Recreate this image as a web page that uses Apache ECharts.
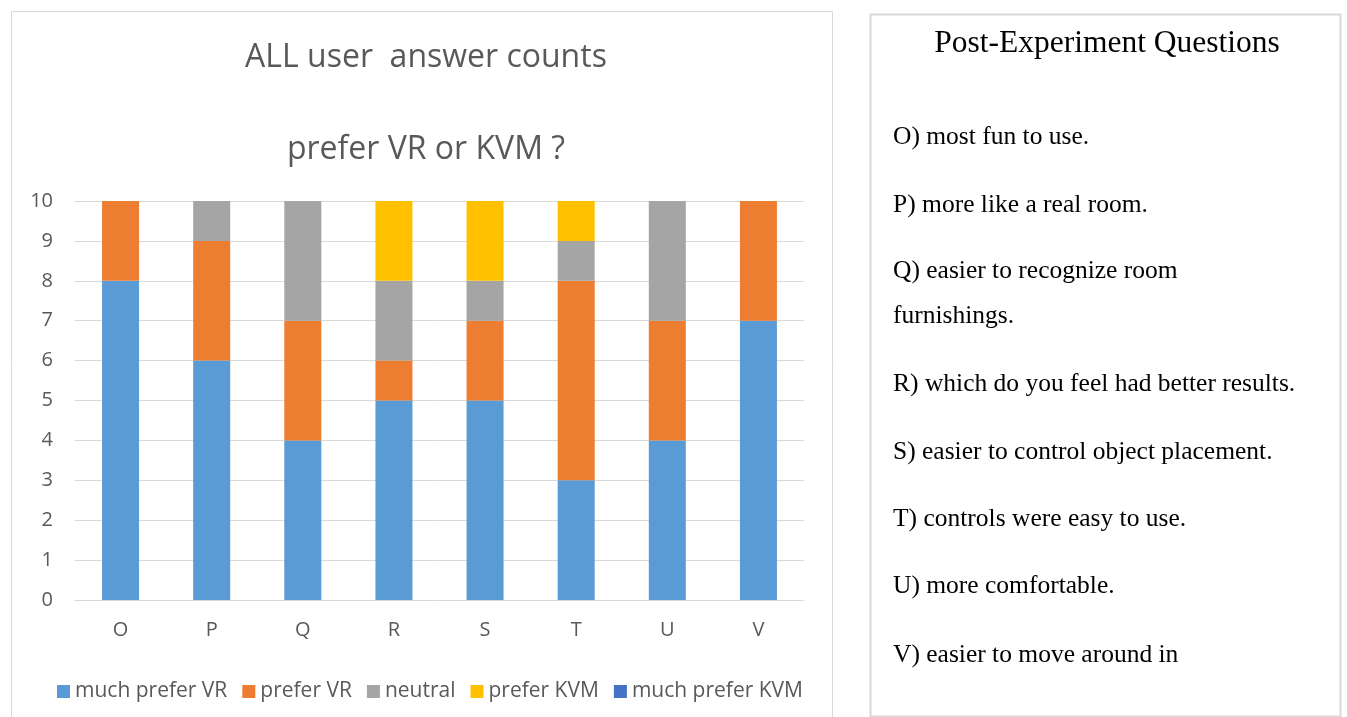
<!DOCTYPE html>
<html>
<head>
<meta charset="utf-8">
<script src="https://cdn.jsdelivr.net/npm/echarts@6/dist/echarts.min.js"></script>
<style>
  html, body { margin: 0; padding: 0; background: #fff; }
  #main { width: 1347px; height: 717px; }
</style>
</head>
<body>
<div id="main"></div>
<script>
var dom = document.getElementById('main');
var myChart = echarts.init(dom);

var categories = ['O', 'P', 'Q', 'R', 'S', 'T', 'U', 'V'];
var muchPreferVR = [8, 6, 4, 5, 5, 3, 4, 7];
var preferVR = [2, 3, 3, 1, 2, 5, 3, 3];
var neutral = [0, 1, 3, 2, 1, 1, 3, 0];
var preferKVM = [0, 0, 0, 2, 2, 1, 0, 0];
var muchPreferKVM = [0, 0, 0, 0, 0, 0, 0, 0];

var questions = [
    'O) most fun to use.',
    'P) more like a real room.',
    'Q) easier to recognize room',
    'furnishings.',
    'R) which do you feel had better results.',
    'S) easier to control object placement.',
    'T) controls were easy to use.',
    'U) more comfortable.',
    'V) easier to move around in'
];
var questionY = [137, 205, 271, 316, 384, 452, 519, 586, 655];

var font = 'Open Sans';
var color = ['#5B9BD5', '#ED7D31', '#A5A5A5', '#FFC000', '#4472C4'];
var names = ['much prefer VR', 'prefer VR', 'neutral', 'prefer KVM', 'much prefer KVM'];
var values = [muchPreferVR, preferVR, neutral, preferKVM, muchPreferKVM];

var series = names.map(function (n, i) {
    return {
        name: n,
        type: 'bar',
        stack: 'all',
        barWidth: 37,
        itemStyle: { color: color[i] },
        data: values[i]
    };
});

var graphics = [
    { type: 'rect', shape: { x: 11.5, y: 11.5, width: 821, height: 720 },
      style: { fill: 'none', stroke: '#d9d9d9', lineWidth: 1 } },
    { type: 'rect', shape: { x: 870.5, y: 14.5, width: 470, height: 702 },
      style: { fill: 'none', stroke: '#d9d9d9', lineWidth: 2 } },
    { type: 'text', x: 1107, y: 44,
      style: { text: 'Post-Experiment Questions', font: '31.5px "Liberation Serif"', fill: '#000',
               textAlign: 'center', textVerticalAlign: 'middle' } }
];
questions.forEach(function (q, i) {
    graphics.push({ type: 'text', x: 893, y: questionY[i],
        style: { text: q, font: '25.5px "Liberation Serif"', fill: '#000', textVerticalAlign: 'middle' } });
});

var option = {
    backgroundColor: '#fff',
    color: color,
    title: [{
        text: 'ALL user  answer counts',
        left: 421, top: 37, textAlign: 'center',
        textStyle: { color: '#595959', fontSize: 32, fontWeight: 'normal', fontFamily: font }
    }, {
        text: 'prefer VR or KVM ?',
        left: 421, top: 129, textAlign: 'center',
        textStyle: { color: '#595959', fontSize: 32, fontWeight: 'normal', fontFamily: font }
    }],
    legend: {
        data: names,
        left: 52, top: 676, itemGap: 15,
        itemWidth: 13, itemHeight: 13, icon: 'rect',
        textStyle: { color: '#595959', fontSize: 21, fontFamily: font }
    },
    grid: { left: 75, right: 1347 - 804, top: 201, bottom: 717 - 600 },
    xAxis: {
        type: 'category',
        data: categories,
        axisLine: { lineStyle: { color: '#d9d9d9' } },
        axisTick: { show: false },
        axisLabel: { color: '#595959', fontSize: 20, fontFamily: font, margin: 20 }
    },
    yAxis: {
        type: 'value',
        min: 0, max: 10, interval: 1,
        axisLine: { show: false },
        axisTick: { show: false },
        splitLine: { lineStyle: { color: '#d9d9d9' } },
        axisLabel: { color: '#595959', fontSize: 20, fontFamily: font, margin: 22 }
    },
    graphic: graphics,
    series: series
};
myChart.setOption(option, true);
</script>
</body>
</html>
